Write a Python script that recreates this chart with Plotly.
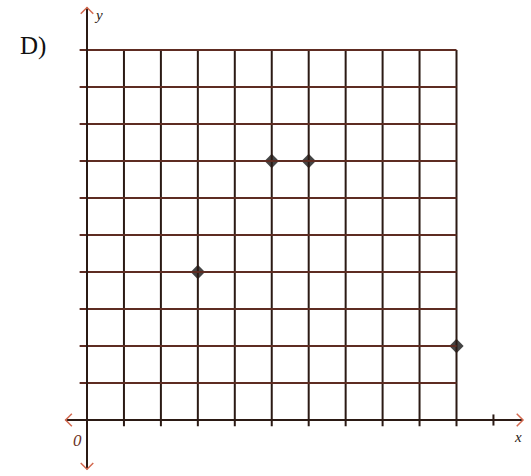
import plotly.graph_objects as go

# Data
grid_x = list(range(0, 11))
grid_y = list(range(0, 11))
point_x = [3, 5, 6, 10]
point_y = [4, 7, 7, 2]
panel_label = "D)"
x_label = "x"
y_label = "y"
origin_label = "0"

W, H = 531, 476
px_per_unit_x = 36.95
px_per_unit_y = 37.0
x0_px, y0_px = 87, 420

x_range = [(0 - x0_px) / px_per_unit_x, (W - x0_px) / px_per_unit_x]
y_range = [(y0_px - H) / px_per_unit_y, y0_px / px_per_unit_y]

v_col = "#2b1a14"
h_col = "#5e2c22"
arrow_col = "#d46a50"

shapes = []
# vertical grid lines
for gx in grid_x[1:]:
    shapes.append(dict(type="line", xref="x", yref="y", x0=gx, x1=gx,
                       y0=-0.17, y1=grid_y[-1], line=dict(color=v_col, width=2)))
# horizontal grid lines
for gy in grid_y[1:]:
    shapes.append(dict(type="line", xref="x", yref="y", x0=-0.2, x1=grid_x[-1],
                       y0=gy, y1=gy, line=dict(color=h_col, width=1.8)))
# axes
shapes.append(dict(type="line", xref="x", yref="y", x0=-0.58, x1=11.8, y0=0, y1=0,
                   line=dict(color=v_col, width=2)))
shapes.append(dict(type="line", xref="x", yref="y", x0=0, x1=0, y0=-1.33, y1=11.15,
                   line=dict(color=v_col, width=2)))
# tick at 11
shapes.append(dict(type="line", xref="x", yref="y", x0=11, x1=11, y0=-0.15, y1=0.15,
                   line=dict(color=v_col, width=2)))
# arrowheads
a = 0.17
shapes.append(dict(type="path", xref="x", yref="y",
                   path=f"M {11.8 - a},{a} L 11.8,0 L {11.8 - a},{-a}",
                   line=dict(color=arrow_col, width=1.5)))
shapes.append(dict(type="path", xref="x", yref="y",
                   path=f"M {-0.58 + a},{a} L -0.58,0 L {-0.58 + a},{-a}",
                   line=dict(color=arrow_col, width=1.5)))
shapes.append(dict(type="path", xref="x", yref="y",
                   path=f"M {-a},{11.15 - a} L 0,11.15 L {a},{11.15 - a}",
                   line=dict(color=arrow_col, width=1.5)))
shapes.append(dict(type="path", xref="x", yref="y",
                   path=f"M {-a},{-1.33 + a} L 0,-1.33 L {a},{-1.33 + a}",
                   line=dict(color=arrow_col, width=1.5)))

fig = go.Figure()
fig.add_trace(go.Scatter(x=point_x, y=point_y, mode="markers",
                         marker=dict(symbol="diamond", size=11, color="#444444",
                                     line=dict(width=0)),
                         hoverinfo="skip", showlegend=False))

annotations = [
    dict(x=-1.45, y=10.1, xref="x", yref="y", text=panel_label, showarrow=False,
         font=dict(family="Liberation Serif", size=25, color="#111111")),
    dict(x=0.32, y=10.95, xref="x", yref="y", text=f"<i>{y_label}</i>", showarrow=False,
         font=dict(family="Liberation Serif", size=15, color="#2a1a14")),
    dict(x=11.67, y=-0.47, xref="x", yref="y", text=f"<i>{x_label}</i>", showarrow=False,
         font=dict(family="Liberation Serif", size=15, color="#2a1a14")),
    dict(x=-0.27, y=-0.55, xref="x", yref="y", text=f"<i>{origin_label}</i>", showarrow=False,
         font=dict(family="Liberation Serif", size=17, color="#6a3026")),
]

fig.update_layout(
    width=W, height=H,
    margin=dict(l=0, r=0, t=0, b=0),
    paper_bgcolor="white", plot_bgcolor="white",
    xaxis=dict(range=x_range, visible=False, fixedrange=True),
    yaxis=dict(range=y_range, visible=False, fixedrange=True),
    shapes=shapes,
    annotations=annotations,
    showlegend=False,
)

fig.write_html("out.html",
               config={"displayModeBar": False},
               post_script="document.body.style.margin='0';document.body.style.overflow='hidden';")
